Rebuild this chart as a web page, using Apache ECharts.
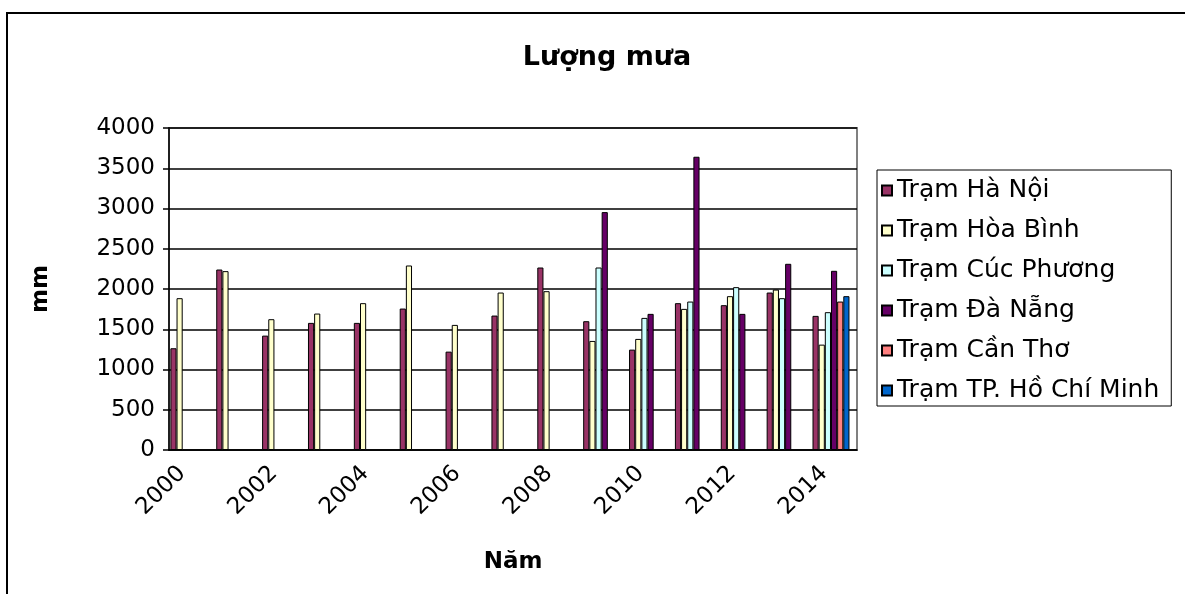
<!DOCTYPE html>
<html>
<head>
<meta charset="utf-8">
<script src="https://cdn.jsdelivr.net/npm/echarts@6/dist/echarts.min.js"></script>
<style>
  html, body { margin: 0; padding: 0; background: #fff; }
  #chart { width: 1185px; height: 594px; }
</style>
</head>
<body>
<div id="chart"></div>
<script>
// năm
var years = ['2000', '2001', '2002', '2003', '2004', '2005', '2006', '2007',
             '2008', '2009', '2010', '2011', '2012', '2013', '2014'];

// lượng mưa từng trạm (mm), '-' = không có số liệu
var haNoi     = [1264, 2242, 1421, 1579, 1579, 1757, 1222, 1670, 2267, 1600, 1247, 1824, 1799, 1956, 1666];
var hoaBinh   = [1886, 2222, 1625, 1695, 1824, 2292, 1554, 1956, 1973, 1355, 1380, 1753, 1911, 1993, 1309];
var cucPhuong = ['-', '-', '-', '-', '-', '-', '-', '-', '-', 2267, 1641, 1844, 2023, 1886, 1712];
var daNang    = ['-', '-', '-', '-', '-', '-', '-', '-', '-', 2955, 1691, 3643, 1691, 2313, 2226];
var canTho    = ['-', '-', '-', '-', '-', '-', '-', '-', '-', '-', '-', '-', '-', '-', 1844];
var hoChiMinh = ['-', '-', '-', '-', '-', '-', '-', '-', '-', '-', '-', '-', '-', '-', 1911];

var stationNames = ['Trạm Hà Nội', 'Trạm Hòa Bình', 'Trạm Cúc Phương',
                    'Trạm Đà Nẵng', 'Trạm Cần Thơ', 'Trạm TP. Hồ Chí Minh'];
var stationColors = ['#993366', '#FFFFCC', '#CCFFFF', '#660066', '#FF8080', '#0066CC'];
var stationData = [haNoi, hoaBinh, cucPhuong, daNang, canTho, hoChiMinh];

var font = 'DejaVu Sans, sans-serif';

var chart = echarts.init(document.getElementById('chart'));

var series = stationNames.map(function (name, i) {
    return {
        name: name,
        type: 'bar',
        data: stationData[i],
        barGap: '0%',
        barCategoryGap: '6%',
        itemStyle: { color: stationColors[i], borderColor: '#000', borderWidth: 1 }
    };
});
// cột trống (giữ chỗ như bản gốc)
series.push({ name: 'empty', type: 'bar', data: [], barGap: '0%', barCategoryGap: '6%' });

var option = {
    animation: false,
    backgroundColor: '#fff',
    textStyle: { fontFamily: font },
    title: {
        text: 'Lượng mưa',
        left: 602,
        textAlign: 'center',
        top: 39,
        textStyle: { fontSize: 27, fontWeight: 'bold', color: '#000', fontFamily: font }
    },
    graphic: [{
        type: 'rect',
        shape: { x: 7, y: 13, width: 1200, height: 600 },
        style: { fill: null, stroke: '#000', lineWidth: 2 },
        z: 100
    }],
    legend: {
        data: stationNames,
        orient: 'vertical',
        left: 877,
        top: 170,
        padding: [8, 12, 3, 4],
        itemGap: 15,
        itemWidth: 10,
        itemHeight: 10,
        icon: 'rect',
        borderColor: '#000',
        borderWidth: 1,
        textStyle: { fontSize: 25, color: '#000', fontFamily: font }
    },
    grid: {
        left: 169,
        top: 128,
        right: 328,
        bottom: 144,
        show: true,
        borderColor: '#808080',
        borderWidth: 2
    },
    xAxis: {
        type: 'category',
        data: years,
        name: 'Năm',
        nameLocation: 'middle',
        nameGap: 101,
        nameTextStyle: { fontSize: 23, fontWeight: 'bold', color: '#000', fontFamily: font },
        axisLine: { lineStyle: { color: '#000', width: 1.5 } },
        axisTick: { interval: 0, length: 6, lineStyle: { color: '#000', width: 1.5 } },
        axisLabel: {
            interval: 1, rotate: 45, fontSize: 23, color: '#000', margin: 10,
            padding: [0, 14, 0, 0]
        }
    },
    yAxis: {
        type: 'value',
        min: 0,
        max: 4000,
        interval: 500,
        name: 'mm',
        nameLocation: 'middle',
        nameGap: 116,
        nameRotate: 90,
        nameTextStyle: { fontSize: 23, fontWeight: 'bold', color: '#000', fontFamily: font },
        axisLine: { show: true, lineStyle: { color: '#000', width: 1.5 } },
        axisTick: { show: true, length: 6, lineStyle: { color: '#000', width: 1.5 } },
        axisLabel: {
            fontSize: 23, color: '#000', margin: 14,
            formatter: function (v) { return String(v); }
        },
        splitLine: { lineStyle: { color: '#000', width: 1.5 } }
    },
    series: series
};

chart.setOption(option);
</script>
</body>
</html>
